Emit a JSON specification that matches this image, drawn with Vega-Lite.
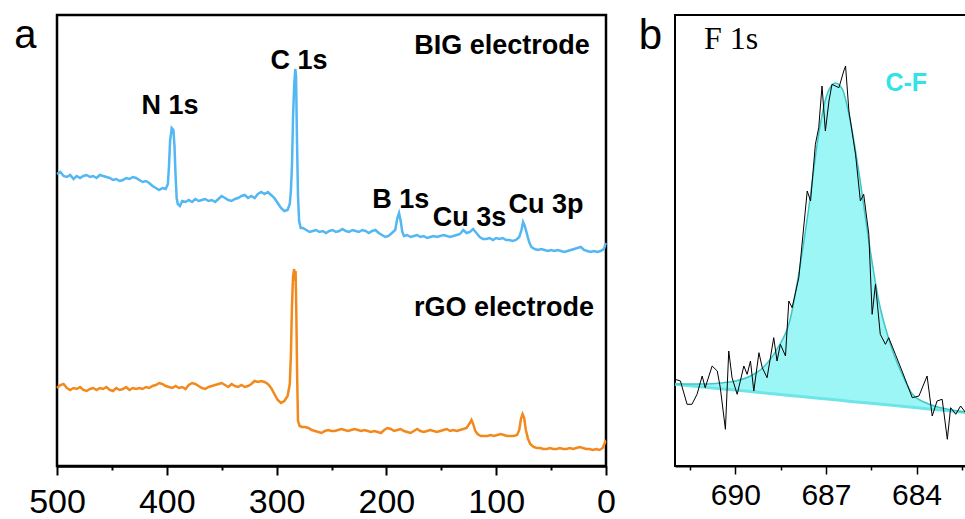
{
  "$schema": "https://vega.github.io/schema/vega-lite/v6.json",
  "autosize": {"type": "pad"},
  "padding": {"left": 12, "top": 13, "right": 0, "bottom": 0},
  "background": "white",
  "spacing": 69,
  "bounds": "flush",
  "config": {
    "view": {"stroke": null},
    "axis": {"grid": false, "title": null, "domainColor": "black", "tickColor": "black", "labelColor": "black", "labelFont": "Liberation Sans", "labelFlush": false, "labelOverlap": false},
    "text": {"font": "Liberation Sans", "color": "black"}
  },
  "datasets": {
    "survey": [
      {"s":"BIG","e":500,"i":292},{"s":"BIG","e":497,"i":294},{"s":"BIG","e":494,"i":290},{"s":"BIG","e":491,"i":289},{"s":"BIG","e":488,"i":291},{"s":"BIG","e":485,"i":287},{"s":"BIG","e":482,"i":290},{"s":"BIG","e":479,"i":288},{"s":"BIG","e":476,"i":290},{"s":"BIG","e":473,"i":291},{"s":"BIG","e":470,"i":289},{"s":"BIG","e":467,"i":290},{"s":"BIG","e":464,"i":288},{"s":"BIG","e":461,"i":291},{"s":"BIG","e":458,"i":290},{"s":"BIG","e":455,"i":289},{"s":"BIG","e":452,"i":288},{"s":"BIG","e":449,"i":286},{"s":"BIG","e":446,"i":287},{"s":"BIG","e":443,"i":285},{"s":"BIG","e":440,"i":286},{"s":"BIG","e":437,"i":288},{"s":"BIG","e":434,"i":287},{"s":"BIG","e":431,"i":289},{"s":"BIG","e":428,"i":288},{"s":"BIG","e":425,"i":286},{"s":"BIG","e":422,"i":284},{"s":"BIG","e":419,"i":285},{"s":"BIG","e":416,"i":283},{"s":"BIG","e":413,"i":280},{"s":"BIG","e":410,"i":278},{"s":"BIG","e":407,"i":276},{"s":"BIG","e":404,"i":278},{"s":"BIG","e":401,"i":277},{"s":"BIG","e":399,"i":282},{"s":"BIG","e":398,"i":300},{"s":"BIG","e":397,"i":325},{"s":"BIG","e":395.5,"i":338},{"s":"BIG","e":394,"i":336},{"s":"BIG","e":393,"i":320},{"s":"BIG","e":392,"i":290},{"s":"BIG","e":391,"i":268},{"s":"BIG","e":390,"i":262},{"s":"BIG","e":388,"i":260},{"s":"BIG","e":386,"i":265},{"s":"BIG","e":383,"i":264},{"s":"BIG","e":380,"i":266},{"s":"BIG","e":377,"i":264},{"s":"BIG","e":374,"i":267},{"s":"BIG","e":371,"i":265},{"s":"BIG","e":368,"i":266},{"s":"BIG","e":365,"i":267},{"s":"BIG","e":362,"i":265},{"s":"BIG","e":359,"i":266},{"s":"BIG","e":356,"i":264},{"s":"BIG","e":353,"i":267},{"s":"BIG","e":350,"i":270},{"s":"BIG","e":347,"i":268},{"s":"BIG","e":344,"i":266},{"s":"BIG","e":341,"i":265},{"s":"BIG","e":338,"i":267},{"s":"BIG","e":335,"i":268},{"s":"BIG","e":332,"i":270},{"s":"BIG","e":329,"i":271},{"s":"BIG","e":326,"i":268},{"s":"BIG","e":323,"i":270},{"s":"BIG","e":320,"i":268},{"s":"BIG","e":317,"i":272},{"s":"BIG","e":314,"i":274},{"s":"BIG","e":311,"i":272},{"s":"BIG","e":308,"i":274},{"s":"BIG","e":305,"i":271},{"s":"BIG","e":302,"i":268},{"s":"BIG","e":299,"i":263},{"s":"BIG","e":296,"i":258},{"s":"BIG","e":293,"i":255},{"s":"BIG","e":290,"i":256},{"s":"BIG","e":288,"i":262},{"s":"BIG","e":287,"i":275},{"s":"BIG","e":286,"i":300},{"s":"BIG","e":285,"i":350},{"s":"BIG","e":284,"i":380},{"s":"BIG","e":283,"i":397},{"s":"BIG","e":282.3,"i":390},{"s":"BIG","e":281.5,"i":330},{"s":"BIG","e":280.5,"i":270},{"s":"BIG","e":279.5,"i":245},{"s":"BIG","e":278,"i":238},{"s":"BIG","e":276,"i":238},{"s":"BIG","e":273,"i":236},{"s":"BIG","e":270,"i":234},{"s":"BIG","e":267,"i":235},{"s":"BIG","e":264,"i":236},{"s":"BIG","e":261,"i":234},{"s":"BIG","e":258,"i":235},{"s":"BIG","e":255,"i":233},{"s":"BIG","e":252,"i":235},{"s":"BIG","e":249,"i":236},{"s":"BIG","e":246,"i":234},{"s":"BIG","e":243,"i":235},{"s":"BIG","e":240,"i":237},{"s":"BIG","e":237,"i":235},{"s":"BIG","e":234,"i":234},{"s":"BIG","e":231,"i":236},{"s":"BIG","e":228,"i":235},{"s":"BIG","e":225,"i":234},{"s":"BIG","e":222,"i":236},{"s":"BIG","e":219,"i":235},{"s":"BIG","e":216,"i":233},{"s":"BIG","e":213,"i":235},{"s":"BIG","e":210,"i":236},{"s":"BIG","e":207,"i":233},{"s":"BIG","e":204,"i":231},{"s":"BIG","e":201,"i":229},{"s":"BIG","e":198,"i":230},{"s":"BIG","e":195,"i":233},{"s":"BIG","e":192,"i":236},{"s":"BIG","e":190,"i":248},{"s":"BIG","e":188.5,"i":253},{"s":"BIG","e":187,"i":245},{"s":"BIG","e":185.5,"i":234},{"s":"BIG","e":184,"i":230},{"s":"BIG","e":181,"i":231},{"s":"BIG","e":178,"i":229},{"s":"BIG","e":175,"i":230},{"s":"BIG","e":172,"i":231},{"s":"BIG","e":169,"i":229},{"s":"BIG","e":166,"i":230},{"s":"BIG","e":163,"i":228},{"s":"BIG","e":160,"i":229},{"s":"BIG","e":157,"i":230},{"s":"BIG","e":154,"i":229},{"s":"BIG","e":151,"i":230},{"s":"BIG","e":148,"i":231},{"s":"BIG","e":145,"i":230},{"s":"BIG","e":142,"i":229},{"s":"BIG","e":139,"i":230},{"s":"BIG","e":136,"i":231},{"s":"BIG","e":133,"i":232},{"s":"BIG","e":130,"i":236},{"s":"BIG","e":127,"i":233},{"s":"BIG","e":124,"i":234},{"s":"BIG","e":121,"i":237},{"s":"BIG","e":118,"i":233},{"s":"BIG","e":115,"i":229},{"s":"BIG","e":112,"i":227},{"s":"BIG","e":109,"i":227},{"s":"BIG","e":106,"i":228},{"s":"BIG","e":103,"i":226},{"s":"BIG","e":100,"i":228},{"s":"BIG","e":97,"i":227},{"s":"BIG","e":94,"i":228},{"s":"BIG","e":91,"i":226},{"s":"BIG","e":88,"i":226},{"s":"BIG","e":85,"i":225},{"s":"BIG","e":82,"i":226},{"s":"BIG","e":79,"i":229},{"s":"BIG","e":77,"i":236},{"s":"BIG","e":75.5,"i":244},{"s":"BIG","e":74,"i":240},{"s":"BIG","e":72,"i":232},{"s":"BIG","e":70,"i":224},{"s":"BIG","e":68,"i":219},{"s":"BIG","e":65,"i":217},{"s":"BIG","e":62,"i":216},{"s":"BIG","e":59,"i":217},{"s":"BIG","e":56,"i":216},{"s":"BIG","e":53,"i":215},{"s":"BIG","e":50,"i":216},{"s":"BIG","e":47,"i":215},{"s":"BIG","e":44,"i":216},{"s":"BIG","e":41,"i":215},{"s":"BIG","e":38,"i":214},{"s":"BIG","e":35,"i":215},{"s":"BIG","e":32,"i":216},{"s":"BIG","e":29,"i":217},{"s":"BIG","e":26,"i":218},{"s":"BIG","e":23,"i":219},{"s":"BIG","e":20,"i":216},{"s":"BIG","e":17,"i":215},{"s":"BIG","e":14,"i":214},{"s":"BIG","e":11,"i":215},{"s":"BIG","e":8,"i":214},{"s":"BIG","e":5,"i":215},{"s":"BIG","e":3,"i":216},{"s":"BIG","e":1.5,"i":218},{"s":"BIG","e":0.5,"i":222},{"s":"BIG","e":0,"i":223},
      {"s":"rGO","e":500,"i":78},{"s":"rGO","e":497,"i":81},{"s":"rGO","e":494,"i":82},{"s":"rGO","e":491,"i":78},{"s":"rGO","e":488,"i":76},{"s":"rGO","e":485,"i":78},{"s":"rGO","e":482,"i":77},{"s":"rGO","e":479,"i":79},{"s":"rGO","e":476,"i":76},{"s":"rGO","e":473,"i":75},{"s":"rGO","e":470,"i":77},{"s":"rGO","e":467,"i":78},{"s":"rGO","e":464,"i":76},{"s":"rGO","e":461,"i":78},{"s":"rGO","e":458,"i":77},{"s":"rGO","e":455,"i":79},{"s":"rGO","e":452,"i":76},{"s":"rGO","e":449,"i":75},{"s":"rGO","e":446,"i":78},{"s":"rGO","e":443,"i":76},{"s":"rGO","e":440,"i":77},{"s":"rGO","e":437,"i":79},{"s":"rGO","e":434,"i":76},{"s":"rGO","e":431,"i":78},{"s":"rGO","e":428,"i":77},{"s":"rGO","e":425,"i":78},{"s":"rGO","e":422,"i":77},{"s":"rGO","e":419,"i":79},{"s":"rGO","e":416,"i":78},{"s":"rGO","e":413,"i":80},{"s":"rGO","e":410,"i":81},{"s":"rGO","e":407,"i":83},{"s":"rGO","e":404,"i":82},{"s":"rGO","e":401,"i":80},{"s":"rGO","e":398,"i":79},{"s":"rGO","e":395,"i":78},{"s":"rGO","e":392,"i":80},{"s":"rGO","e":389,"i":78},{"s":"rGO","e":386,"i":79},{"s":"rGO","e":383,"i":77},{"s":"rGO","e":380,"i":81},{"s":"rGO","e":377,"i":83},{"s":"rGO","e":374,"i":82},{"s":"rGO","e":371,"i":80},{"s":"rGO","e":368,"i":78},{"s":"rGO","e":365,"i":77},{"s":"rGO","e":362,"i":79},{"s":"rGO","e":359,"i":80},{"s":"rGO","e":356,"i":81},{"s":"rGO","e":353,"i":82},{"s":"rGO","e":350,"i":83},{"s":"rGO","e":347,"i":81},{"s":"rGO","e":344,"i":79},{"s":"rGO","e":341,"i":82},{"s":"rGO","e":338,"i":80},{"s":"rGO","e":335,"i":79},{"s":"rGO","e":332,"i":81},{"s":"rGO","e":329,"i":79},{"s":"rGO","e":326,"i":80},{"s":"rGO","e":323,"i":82},{"s":"rGO","e":320,"i":85},{"s":"rGO","e":317,"i":84},{"s":"rGO","e":314,"i":85},{"s":"rGO","e":311,"i":84},{"s":"rGO","e":308,"i":82},{"s":"rGO","e":305,"i":78},{"s":"rGO","e":302,"i":72},{"s":"rGO","e":299,"i":66},{"s":"rGO","e":296,"i":63},{"s":"rGO","e":293,"i":65},{"s":"rGO","e":290,"i":70},{"s":"rGO","e":288,"i":82},{"s":"rGO","e":287,"i":110},{"s":"rGO","e":286,"i":160},{"s":"rGO","e":285,"i":190},{"s":"rGO","e":284,"i":197},{"s":"rGO","e":283.3,"i":185},{"s":"rGO","e":282.7,"i":195},{"s":"rGO","e":282,"i":150},{"s":"rGO","e":281.3,"i":90},{"s":"rGO","e":280.5,"i":45},{"s":"rGO","e":279,"i":40},{"s":"rGO","e":277,"i":39},{"s":"rGO","e":274,"i":39},{"s":"rGO","e":271,"i":38},{"s":"rGO","e":268,"i":36},{"s":"rGO","e":265,"i":35},{"s":"rGO","e":262,"i":34},{"s":"rGO","e":259,"i":33},{"s":"rGO","e":256,"i":35},{"s":"rGO","e":253,"i":36},{"s":"rGO","e":250,"i":35},{"s":"rGO","e":247,"i":35},{"s":"rGO","e":244,"i":36},{"s":"rGO","e":241,"i":37},{"s":"rGO","e":238,"i":36},{"s":"rGO","e":235,"i":35},{"s":"rGO","e":232,"i":36},{"s":"rGO","e":229,"i":37},{"s":"rGO","e":226,"i":36},{"s":"rGO","e":223,"i":35},{"s":"rGO","e":220,"i":36},{"s":"rGO","e":217,"i":35},{"s":"rGO","e":214,"i":34},{"s":"rGO","e":211,"i":35},{"s":"rGO","e":208,"i":34},{"s":"rGO","e":205,"i":33},{"s":"rGO","e":202,"i":36},{"s":"rGO","e":199,"i":38},{"s":"rGO","e":196,"i":37},{"s":"rGO","e":193,"i":35},{"s":"rGO","e":190,"i":36},{"s":"rGO","e":187,"i":37},{"s":"rGO","e":184,"i":35},{"s":"rGO","e":181,"i":34},{"s":"rGO","e":178,"i":33},{"s":"rGO","e":175,"i":35},{"s":"rGO","e":172,"i":37},{"s":"rGO","e":169,"i":35},{"s":"rGO","e":166,"i":34},{"s":"rGO","e":163,"i":35},{"s":"rGO","e":160,"i":36},{"s":"rGO","e":157,"i":35},{"s":"rGO","e":154,"i":34},{"s":"rGO","e":151,"i":35},{"s":"rGO","e":148,"i":36},{"s":"rGO","e":145,"i":37},{"s":"rGO","e":142,"i":35},{"s":"rGO","e":139,"i":36},{"s":"rGO","e":136,"i":35},{"s":"rGO","e":133,"i":36},{"s":"rGO","e":130,"i":37},{"s":"rGO","e":127,"i":38},{"s":"rGO","e":124,"i":43},{"s":"rGO","e":122.5,"i":46},{"s":"rGO","e":121,"i":42},{"s":"rGO","e":119,"i":35},{"s":"rGO","e":117,"i":32},{"s":"rGO","e":114,"i":30},{"s":"rGO","e":111,"i":30},{"s":"rGO","e":108,"i":30},{"s":"rGO","e":105,"i":31},{"s":"rGO","e":102,"i":30},{"s":"rGO","e":99,"i":31},{"s":"rGO","e":96,"i":32},{"s":"rGO","e":93,"i":31},{"s":"rGO","e":90,"i":30},{"s":"rGO","e":87,"i":30},{"s":"rGO","e":84,"i":30},{"s":"rGO","e":81,"i":31},{"s":"rGO","e":79,"i":36},{"s":"rGO","e":77.5,"i":47},{"s":"rGO","e":76,"i":52},{"s":"rGO","e":74.5,"i":48},{"s":"rGO","e":73,"i":36},{"s":"rGO","e":71,"i":27},{"s":"rGO","e":69,"i":22},{"s":"rGO","e":66,"i":19},{"s":"rGO","e":63,"i":18},{"s":"rGO","e":60,"i":18},{"s":"rGO","e":57,"i":17},{"s":"rGO","e":54,"i":17},{"s":"rGO","e":51,"i":18},{"s":"rGO","e":48,"i":17},{"s":"rGO","e":45,"i":17},{"s":"rGO","e":42,"i":18},{"s":"rGO","e":39,"i":17},{"s":"rGO","e":36,"i":17},{"s":"rGO","e":33,"i":18},{"s":"rGO","e":30,"i":17},{"s":"rGO","e":27,"i":18},{"s":"rGO","e":24,"i":19},{"s":"rGO","e":21,"i":18},{"s":"rGO","e":18,"i":17},{"s":"rGO","e":15,"i":17},{"s":"rGO","e":12,"i":16},{"s":"rGO","e":9,"i":17},{"s":"rGO","e":6,"i":16},{"s":"rGO","e":3,"i":18},{"s":"rGO","e":1.5,"i":22},{"s":"rGO","e":0.5,"i":25},{"s":"rGO","e":0,"i":25}
    ],
    "labelsA": [
      {"e":94.7,"i":412,"t":"BIG electrode"},
      {"e":92.9,"i":150,"t":"rGO electrode"},
      {"e":279.6,"i":397,"t":"C 1s"},
      {"e":397.1,"i":352,"t":"N 1s"},
      {"e":187,"i":258,"t":"B 1s"},
      {"e":124.3,"i":240,"t":"Cu 3s"},
      {"e":54.6,"i":253,"t":"Cu 3p"}
    ],
    "fit": [
      {"e":692.0,"fit":82,"bg":81.7},{"e":691.0,"fit":82,"bg":78.8},{"e":690.5,"fit":83,"bg":77.3},{"e":690.0,"fit":85,"bg":75.9},{"e":689.5,"fit":90,"bg":74.4},{"e":689.1,"fit":98,"bg":73.2},{"e":688.6,"fit":118,"bg":71.8},{"e":688.2,"fit":145,"bg":70.6},{"e":687.9,"fit":192,"bg":69.7},{"e":687.57,"fit":258,"bg":68.7},{"e":687.24,"fit":332,"bg":67.8},{"e":686.96,"fit":372,"bg":67.0},{"e":686.69,"fit":383,"bg":66.2},{"e":686.46,"fit":377,"bg":65.5},{"e":686.24,"fit":352,"bg":64.8},{"e":685.9,"fit":292,"bg":63.8},{"e":685.58,"fit":225,"bg":62.9},{"e":685.25,"fit":165,"bg":61.9},{"e":684.9,"fit":125,"bg":60.9},{"e":684.48,"fit":92,"bg":59.7},{"e":684.14,"fit":72,"bg":58.7},{"e":683.6,"fit":62,"bg":57.1},{"e":683.0,"fit":57,"bg":55.4},{"e":682.3,"fit":53.5,"bg":53.3},{"e":681.5,"fit":51,"bg":51}
    ],
    "raw": [
      {"e":692.0,"i":86.7},{"e":691.82,"i":85},{"e":691.6,"i":61.7},{"e":691.44,"i":61.7},{"e":691.27,"i":71.7},{"e":691.1,"i":90},{"e":691.0,"i":78.3},{"e":690.77,"i":100},{"e":690.6,"i":95},{"e":690.5,"i":78.3},{"e":690.33,"i":36.7},{"e":690.22,"i":115},{"e":690.11,"i":88.3},{"e":689.94,"i":71.7},{"e":689.72,"i":100},{"e":689.61,"i":91.7},{"e":689.5,"i":105},{"e":689.39,"i":75},{"e":689.22,"i":113.3},{"e":689.11,"i":98.3},{"e":688.95,"i":88.3},{"e":688.73,"i":128.3},{"e":688.62,"i":105},{"e":688.51,"i":121.7},{"e":688.34,"i":110},{"e":688.23,"i":165},{"e":688.12,"i":158.3},{"e":687.9,"i":188.3},{"e":687.62,"i":275},{"e":687.51,"i":265},{"e":687.35,"i":321.7},{"e":687.24,"i":338.3},{"e":687.13,"i":380},{"e":687.02,"i":335},{"e":686.9,"i":365},{"e":686.8,"i":381.7},{"e":686.57,"i":378.3},{"e":686.41,"i":395},{"e":686.35,"i":400},{"e":686.24,"i":355},{"e":686.02,"i":311.7},{"e":685.86,"i":265},{"e":685.75,"i":271.7},{"e":685.58,"i":231.7},{"e":685.47,"i":151.7},{"e":685.36,"i":181.7},{"e":685.2,"i":131.7},{"e":685.03,"i":121.7},{"e":684.92,"i":128.3},{"e":684.7,"i":111.7},{"e":684.48,"i":95},{"e":684.31,"i":81.7},{"e":684.14,"i":68.3},{"e":683.92,"i":70},{"e":683.65,"i":90},{"e":683.48,"i":50},{"e":683.32,"i":65},{"e":683.15,"i":66.7},{"e":682.98,"i":26.7},{"e":682.87,"i":58.3},{"e":682.7,"i":51.7},{"e":682.54,"i":60},{"e":682.37,"i":53.3},{"e":682.26,"i":56.7},{"e":682.1,"i":52},{"e":681.9,"i":55}
    ]
  },
  "hconcat": [
    {
      "width": 549,
      "height": 451,
      "view": {"stroke": "black", "strokeWidth": 2.5},
      "layer": [
        {
          "data": {"name": "survey"},
          "mark": {"type": "line", "strokeWidth": 2.5},
          "encoding": {
            "x": {"field": "e", "type": "quantitative", "scale": {"domain": [0, 500], "reverse": true, "nice": false, "zero": false},
              "axis": {"values": [0,50,100,150,200,250,300,350,400,450,500], "labelExpr": "datum.value % 100 === 0 ? datum.label : ''", "labelFontSize": 34, "labelPadding": 10, "domainWidth": 2.5, "tickWidth": 2, "tickSize": {"condition": {"test": "datum.value % 100 === 0", "value": 9}, "value": 4}}},
            "y": {"field": "i", "type": "quantitative", "scale": {"domain": [0, 451], "nice": false, "zero": false}, "axis": null},
            "color": {"field": "s", "type": "nominal", "scale": {"domain": ["BIG", "rGO"], "range": ["#52b7f2", "#f2891c"]}, "legend": null}
          }
        },
        {
          "data": {"name": "labelsA"},
          "mark": {"type": "text", "fontWeight": "bold", "fontSize": 27, "align": "center", "baseline": "alphabetic"},
          "encoding": {
            "x": {"field": "e", "type": "quantitative"},
            "y": {"field": "i", "type": "quantitative"},
            "text": {"field": "t"}
          }
        },
        {
          "data": {"values": [{"e": 539, "i": 418, "t": "a"}]},
          "mark": {"type": "text", "fontSize": 40, "align": "left", "baseline": "alphabetic"},
          "encoding": {
            "x": {"field": "e", "type": "quantitative"},
            "y": {"field": "i", "type": "quantitative"},
            "text": {"field": "t"}
          }
        }
      ]
    },
    {
      "width": 317,
      "height": 451,
      "view": {"stroke": "black", "strokeWidth": 2},
      "layer": [
        {
          "data": {"name": "fit"},
          "mark": {"type": "area", "color": "#9cf6f6", "opacity": 1, "interpolate": "monotone"},
          "encoding": {
            "x": {"field": "e", "type": "quantitative", "scale": {"domain": [681.5, 692], "reverse": true, "nice": false, "zero": false},
              "axis": {"values": [682.5,684,685.5,687,688.5,690,691.5], "format": "d", "labelExpr": "datum.value % 3 === 0 ? datum.label : ''", "labelFontSize": 30, "labelPadding": 6, "domainWidth": 2, "tickWidth": 1.5, "tickSize": {"condition": {"test": "datum.value % 3 === 0", "value": 8}, "value": 4}}},
            "y": {"field": "fit", "type": "quantitative", "scale": {"domain": [0, 451], "nice": false, "zero": false}, "axis": null},
            "y2": {"field": "bg"}
          }
        },
        {
          "data": {"name": "fit"},
          "mark": {"type": "line", "color": "#6ee6e8", "strokeWidth": 3},
          "encoding": {
            "x": {"field": "e", "type": "quantitative"},
            "y": {"field": "bg", "type": "quantitative"}
          }
        },
        {
          "data": {"name": "fit"},
          "mark": {"type": "line", "color": "#3fc6c8", "strokeWidth": 1.5, "interpolate": "monotone"},
          "encoding": {
            "x": {"field": "e", "type": "quantitative"},
            "y": {"field": "fit", "type": "quantitative"}
          }
        },
        {
          "data": {"name": "raw"},
          "mark": {"type": "line", "color": "black", "strokeWidth": 1},
          "encoding": {
            "x": {"field": "e", "type": "quantitative"},
            "y": {"field": "i", "type": "quantitative"}
          }
        },
        {
          "data": {"values": [{"e": 691.04, "i": 417, "t": "F 1s"}]},
          "mark": {"type": "text", "font": "Liberation Serif", "fontSize": 32, "align": "left", "baseline": "alphabetic"},
          "encoding": {
            "x": {"field": "e", "type": "quantitative"},
            "y": {"field": "i", "type": "quantitative"},
            "text": {"field": "t"}
          }
        },
        {
          "data": {"values": [{"e": 685.03, "i": 375, "t": "C-F"}]},
          "mark": {"type": "text", "fontWeight": "bold", "fontSize": 25, "color": "#2ee4e8", "align": "left", "baseline": "alphabetic"},
          "encoding": {
            "x": {"field": "e", "type": "quantitative"},
            "y": {"field": "i", "type": "quantitative"},
            "text": {"field": "t"}
          }
        },
        {
          "data": {"values": [{"e": 693.2, "i": 417, "t": "b"}]},
          "mark": {"type": "text", "fontSize": 42, "align": "left", "baseline": "alphabetic"},
          "encoding": {
            "x": {"field": "e", "type": "quantitative"},
            "y": {"field": "i", "type": "quantitative"},
            "text": {"field": "t"}
          }
        }
      ]
    }
  ]
}
